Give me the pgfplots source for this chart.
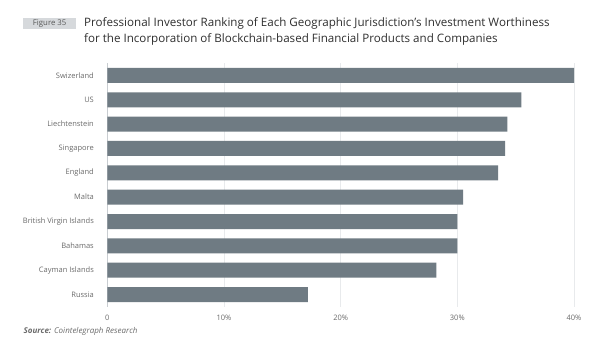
\documentclass[border=0pt]{standalone}
\usepackage{pgfplots}
\pgfplotsset{compat=1.18}
\usepackage{fontspec}
\setmainfont{Open Sans}
\definecolor{barc}{HTML}{6F7B83}
\definecolor{lab}{HTML}{6A6A6A}
\definecolor{titlec}{HTML}{2E2E2E}
\definecolor{gridc}{HTML}{E8EAEC}
\definecolor{zeroc}{HTML}{C9CDD1}
\definecolor{badge}{HTML}{D6D9DC}
\begin{document}
\begin{tikzpicture}[x=1pt,y=1pt]
\useasboundingbox (0,0) rectangle (600,354);
\begin{axis}[
  at={(107.3pt,47.3pt)}, anchor=south west,
  scale only axis, width=466.7pt, height=243.4pt,
  xbar, bar width=15pt,
  xmin=0, xmax=40, ymin=-0.5, ymax=9.5, y dir=reverse,
  ytick={0,...,9},
  yticklabels={Swizerland,US,Liechtenstein,Singapore,England,Malta,British Virgin Islands,Bahamas,Cayman Islands,Russia},
  xtick={0,10,20,30,40},
  xticklabels={0,10\%,20\%,30\%,40\%},
  axis line style={draw=none},
  major tick style={draw=none},
  xmajorgrids, grid style={gridc, line width=0.8pt},
  extra x ticks={0}, extra x tick labels={},
  extra x tick style={grid style={zeroc, line width=1pt}},
  ticklabel style={font=\fontsize{7.5}{9}\selectfont, text=lab},
  yticklabel style={inner sep=0pt, anchor=east, xshift=-9pt},
  xticklabel style={inner sep=0pt, anchor=center, yshift=-11.3pt},
  clip=false,
]
\addplot[fill=barc, draw=none] coordinates {
(40.0,0) (35.5,1) (34.3,2) (34.1,3) (33.5,4) (30.5,5) (30.0,6) (30.0,7) (28.2,8) (17.2,9)};
\end{axis}
\node[fill=badge, text=titlec!80, inner sep=0pt, minimum width=52.7pt, minimum height=11.6pt, font=\fontsize{7.8}{8}\selectfont] at (49.65,330.5) {Figure 35};
\node[anchor=base west, inner sep=0pt, text=titlec, font=\fontsize{11.6}{14}\selectfont] at (84,327) {Professional Investor Ranking of Each Geographic Jurisdiction’s Investment Worthiness};
\node[anchor=base west, inner sep=0pt, text=titlec, font=\fontsize{11.6}{14}\selectfont] at (84,311.5) {for the Incorporation of Blockchain-based Financial Products and Companies};
\node[anchor=west, inner sep=0pt, text=lab, font=\fontsize{8}{9}\selectfont\itshape] at (23.5,23) {\textbf{Source:} Cointelegraph Research};
\end{tikzpicture}
\end{document}
